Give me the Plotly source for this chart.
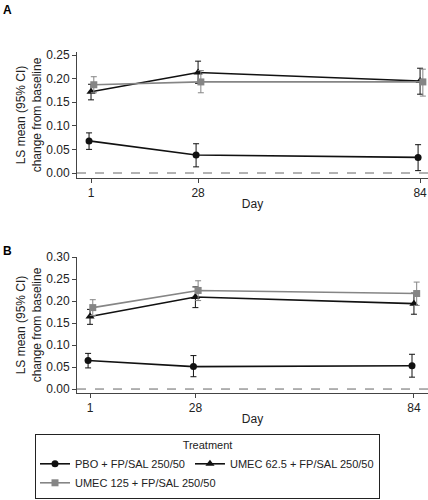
import plotly.graph_objects as go
from plotly.subplots import make_subplots

days = [1, 28, 84]
tick_days = [1, 28, 84]
series_names = ["PBO + FP/SAL 250/50", "UMEC 62.5 + FP/SAL 250/50", "UMEC 125 + FP/SAL 250/50"]

# Panel A
a_pbo = [0.068, 0.038, 0.033]
a_pbo_lo = [0.050, 0.013, 0.005]
a_pbo_hi = [0.085, 0.062, 0.060]
a_u62 = [0.172, 0.213, 0.195]
a_u62_lo = [0.155, 0.190, 0.167]
a_u62_hi = [0.188, 0.237, 0.222]
a_u125 = [0.187, 0.193, 0.193]
a_u125_lo = [0.170, 0.170, 0.163]
a_u125_hi = [0.204, 0.217, 0.220]

# Panel B
b_pbo = [0.065, 0.051, 0.053]
b_pbo_lo = [0.048, 0.028, 0.027]
b_pbo_hi = [0.081, 0.076, 0.079]
b_u62 = [0.165, 0.209, 0.194]
b_u62_lo = [0.147, 0.185, 0.170]
b_u62_hi = [0.181, 0.232, 0.218]
b_u125 = [0.185, 0.224, 0.217]
b_u125_lo = [0.167, 0.201, 0.190]
b_u125_hi = [0.203, 0.246, 0.243]

FONT = "Liberation Sans, Arial, sans-serif"
BLACK = "#111111"
GRAY = "#858585"
styles = [
    dict(color=BLACK, symbol="circle", size=7, dodge=-0.5),
    dict(color=BLACK, symbol="triangle-up", size=8, dodge=0.0),
    dict(color=GRAY, symbol="square", size=7, dodge=0.7),
]

W, H = 428, 500
fig = make_subplots(rows=2, cols=1)

panels = [
    (1, [(a_pbo, a_pbo_lo, a_pbo_hi), (a_u62, a_u62_lo, a_u62_hi), (a_u125, a_u125_lo, a_u125_hi)]),
    (2, [(b_pbo, b_pbo_lo, b_pbo_hi), (b_u62, b_u62_lo, b_u62_hi), (b_u125, b_u125_lo, b_u125_hi)]),
]
for row, data in panels:
    for i, (vals, lo, hi) in enumerate(data):
        st = styles[i]
        fig.add_trace(go.Scatter(
            x=[d + st["dodge"] for d in days], y=vals,
            mode="lines+markers", name=series_names[i],
            legendgroup=series_names[i], showlegend=(row == 1),
            line=dict(color=st["color"], width=1.6),
            marker=dict(color=st["color"], symbol=st["symbol"], size=st["size"]),
            error_y=dict(type="data", symmetric=False,
                         array=[h - v for h, v in zip(hi, vals)],
                         arrayminus=[v - l for l, v in zip(lo, vals)],
                         color=st["color"], thickness=1, width=3),
        ), row=row, col=1)

def px_x(p):
    return p / W

def px_y(p):
    return 1 - p / H

axis_common = dict(showline=True, linecolor="#444444", linewidth=1, ticks="outside",
                   ticklen=4, tickcolor="#444444", showgrid=False, zeroline=False,
                   automargin=False,
                   tickfont=dict(family=FONT, size=12, color="#222222"))
title_font = dict(family=FONT, size=12, color="#222222")

fig.update_layout(
    xaxis=dict(domain=[px_x(77), 1], range=[-2.54, 86.0], tickvals=tick_days,
               title=dict(text="Day", standoff=0, font=title_font),
               anchor="y", **axis_common),
    yaxis=dict(domain=[px_y(178), px_y(52)], range=[-0.0106, 0.2564],
               tickvals=[0, 0.05, 0.10, 0.15, 0.20, 0.25], tickformat=".2f",
               title=dict(text="LS mean (95% CI)<br>change from baseline", standoff=2,
                          font=title_font),
               anchor="x", **axis_common),
    xaxis2=dict(domain=[px_x(77), 1], range=[-2.34, 87.6], tickvals=tick_days,
                title=dict(text="Day", standoff=0, font=title_font),
                anchor="y2", **axis_common),
    yaxis2=dict(domain=[px_y(393), px_y(257)], range=[-0.009, 0.300],
                tickvals=[0, 0.05, 0.10, 0.15, 0.20, 0.25, 0.30], tickformat=".2f",
                title=dict(text="LS mean (95% CI)<br>change from baseline", standoff=2,
                           font=title_font),
                anchor="x2", **axis_common),
)

for yref, xref in [("y", "x domain"), ("y2", "x2 domain")]:
    fig.add_shape(type="line", xref=xref, yref=yref, x0=0, x1=1, y0=0, y1=0,
                  line=dict(color="#666666", width=1, dash="dash"), layer="below")

fig.add_annotation(text="<b>A</b>", x=px_x(1), y=px_y(1), xref="paper", yref="paper",
                   xanchor="left", yanchor="top", showarrow=False,
                   font=dict(family=FONT, size=12, color="#000000"))
fig.add_annotation(text="<b>B</b>", x=px_x(1), y=px_y(242), xref="paper", yref="paper",
                   xanchor="left", yanchor="top", showarrow=False,
                   font=dict(family=FONT, size=12, color="#000000"))

fig.update_layout(
    width=W, height=H, margin=dict(l=0, r=0, t=0, b=0, autoexpand=False),
    paper_bgcolor="white", plot_bgcolor="white",
    font=dict(family=FONT, size=12, color="#222222"),
    legend=dict(orientation="h", x=px_x(35), y=px_y(499), xanchor="left", yanchor="bottom",
                bordercolor="#222222", borderwidth=1, bgcolor="white",
                title=dict(text="Treatment", side="top center", font=dict(family=FONT, size=11)),
                font=dict(family=FONT, size=11, color="#222222"),
                tracegroupgap=0, itemwidth=30),
)

fig.write_html("out.html", config={"displayModeBar": False},
               post_script="document.body.style.margin='0';document.body.style.overflow='hidden';")
